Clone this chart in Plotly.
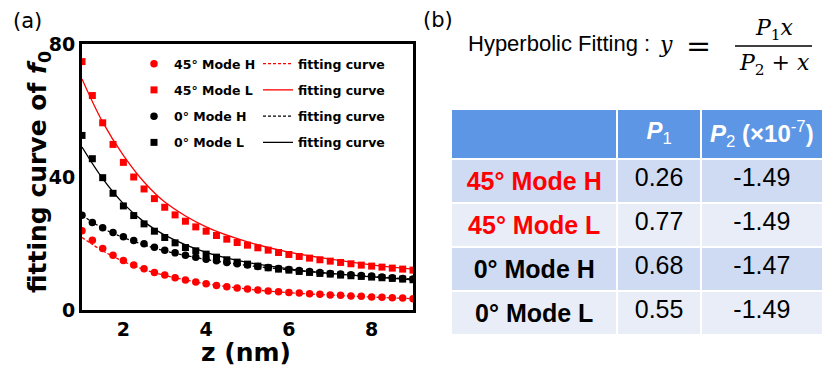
import plotly.graph_objects as go

# ---------------- data ----------------
z = [1.0, 1.25, 1.5, 1.75, 2.0, 2.25, 2.5, 2.75, 3.0, 3.25, 3.5, 3.75, 4.0,
     4.25, 4.5, 4.75, 5.0, 5.25, 5.5, 5.75, 6.0, 6.25, 6.5, 6.75, 7.0,
     7.25, 7.5, 7.75, 8.0, 8.25, 8.5, 8.75, 9.0]

f0_45_H = [23.8, 21.0, 18.5, 16.5, 14.9, 13.5, 12.4, 11.3, 10.5, 9.7, 9.0, 8.4, 7.9,
           7.4, 7.0, 6.6, 6.3, 6.0, 5.7, 5.5, 5.3, 5.1, 4.9, 4.7, 4.5,
           4.4, 4.2, 4.1, 3.9, 3.8, 3.7, 3.6, 3.4]
f0_45_L = [74.7, 64.5, 56.3, 49.8, 44.4, 40.0, 36.4, 33.5, 30.9, 28.6, 26.7, 25.0, 23.7,
           22.4, 21.3, 20.3, 19.5, 18.7, 18.0, 17.3, 16.7, 16.1, 15.6, 15.1, 14.7,
           14.3, 13.9, 13.5, 13.2, 12.9, 12.6, 12.3, 12.0]
f0_0_H = [28.5, 26.3, 24.7, 23.3, 22.0, 20.9, 19.9, 18.9, 18.0, 17.2, 16.5, 15.9, 15.3,
          14.8, 14.3, 13.9, 13.5, 13.1, 12.8, 12.5, 12.2, 11.9, 11.6, 11.3, 11.0,
          10.8, 10.6, 10.4, 10.2, 9.9, 9.7, 9.5, 9.3]
f0_0_L = [52.5, 45.5, 39.8, 35.1, 31.3, 28.4, 25.9, 23.7, 21.8, 20.2, 18.8, 17.8, 16.8,
          15.9, 15.1, 14.4, 13.8, 13.2, 12.7, 12.3, 12.0, 11.6, 11.3, 11.0, 10.8,
          10.5, 10.3, 10.1, 9.9, 9.7, 9.5, 9.3, 9.1]

# fitted curves, sampled along z
z_fit = [1.0, 1.5, 2.0, 2.5, 3.0, 4.0, 5.0, 6.0, 7.0, 8.0, 9.0]
fit_45_H = [21.8, 17.8, 14.6, 12.2, 10.4, 7.9, 6.3, 5.2, 4.5, 3.9, 3.4]
fit_45_L = [69.5, 56.5, 46.5, 38.5, 32.5, 25.0, 20.5, 17.4, 15.3, 13.6, 12.3]
fit_0_H = [28.5, 24.6, 21.8, 19.6, 17.8, 15.2, 13.4, 12.1, 11.0, 10.1, 9.3]
fit_0_L = [49.0, 39.5, 32.0, 26.5, 22.5, 17.3, 14.3, 12.4, 11.0, 10.0, 9.1]

series_names = ["45° Mode H", "45° Mode L", "0° Mode H", "0° Mode L"]
fit_label = "fitting curve"

x_ticks = [2, 4, 6, 8]
y_ticks = [0, 40, 80]

# fitted parameters table
p1_values = ["0.26", "0.77", "0.68", "0.55"]
p2_values = ["-1.49", "-1.49", "-1.47", "-1.49"]

# ---------------- styling ----------------
W, H = 826, 372
RED, BLACK = "#ff0000", "#000000"
colors = [RED, RED, BLACK, BLACK]
symbols = ["circle", "square", "circle", "square"]
marker_sizes = [7.5, 7, 7.5, 7]
dashes = ["3px,2px", "solid", "3px,2px", "solid"]
BOLD = "DejaVu Sans"
NBSP = "\u00a0"


def px(x):
    return x / W


def py(y):
    return 1 - y / H


fig = go.Figure()

point_sets = [f0_45_H, f0_45_L, f0_0_H, f0_0_L]
fit_sets = [fit_45_H, fit_45_L, fit_0_H, fit_0_L]

for i, (name, ys) in enumerate(zip(series_names, point_sets)):
    fig.add_trace(go.Scatter(
        x=z, y=ys, mode="markers", name=name,
        marker=dict(symbol=symbols[i], size=marker_sizes[i], color=colors[i]),
        legend="legend", legendgroup=f"pts{i}",
    ))

for i, ys in enumerate(fit_sets):
    fig.add_trace(go.Scatter(
        x=z_fit, y=ys, mode="lines", name=fit_label,
        line=dict(color=colors[i], width=1.3, dash=dashes[i], shape="spline", smoothing=1.0),
        legend="legend2", legendgroup=f"fit{i}",
    ))

# parameter table (panel b)
row_fill = ["#cfdbf2", "#e8edf8", "#cfdbf2", "#e8edf8"]
fig.add_trace(go.Table(
    domain=dict(x=[px(451), px(824)], y=[0, py(109)]),
    columnwidth=[166, 83, 122],
    header=dict(
        values=["", "<b><i>P</i></b><sub>1</sub>",
                f"<b><i>P</i></b><sub>2</sub><b>{NBSP}(×10</b><sup>-7</sup><b>)</b>"],
        fill=dict(color="#5d96e4"),
        line=dict(color="white", width=2),
        font=dict(family="Liberation Sans", size=24, color="white"),
        align="center", height=42,
    ),
    cells=dict(
        values=[[f"<b>{n.replace(' ', NBSP)}</b>" for n in series_names], p1_values, p2_values],
        fill=dict(color=[row_fill, row_fill, row_fill]),
        line=dict(color="white", width=2),
        font=dict(family="Liberation Sans", size=25,
                  color=[colors, [BLACK] * 4, [BLACK] * 4]),
        align="center", height=44,
    ),
))

axis_common = dict(
    showline=True, mirror=True, linecolor="black", linewidth=3,
    showgrid=False, zeroline=False, ticks="",
    tickfont=dict(family=BOLD, size=19, color="black", weight="bold"),
)

legend_common = dict(
    xanchor="left", yanchor="top", bgcolor="rgba(0,0,0,0)",
    font=dict(family=BOLD, size=12.5, color="black", weight="bold"),
    tracegroupgap=7, itemwidth=30,
)

fig.update_layout(
    width=W, height=H,
    margin=dict(l=0, r=0, t=0, b=0, autoexpand=False),
    paper_bgcolor="white", plot_bgcolor="white",
    xaxis=dict(domain=[px(82), px(413)], range=[1, 9], tickvals=x_ticks, **axis_common),
    yaxis=dict(domain=[py(310), py(44)], range=[0, 80], tickvals=y_ticks, **axis_common),
    legend=dict(x=px(134), y=py(49), **legend_common),
    legend2=dict(x=px(258), y=py(49), **legend_common),
    showlegend=True,
)

annotations = [
    dict(text="(a)", x=px(27), y=py(21), font=dict(family="DejaVu Sans", size=21)),
    dict(text="(b)", x=px(438), y=py(20), font=dict(family="DejaVu Sans", size=21)),
    dict(text="z (nm)", x=px(246), y=py(352),
         font=dict(family=BOLD, size=25, weight="bold")),
    dict(text="fitting curve of <i>f</i><sub>0</sub>", x=px(39), y=py(172), textangle=-90,
         font=dict(family=BOLD, size=25, weight="bold")),
    dict(text="Hyperbolic Fitting :", x=px(466), y=py(43), xanchor="left",
         font=dict(family="Liberation Sans", size=22)),
    dict(text="<i>y</i>", x=px(666), y=py(44),
         font=dict(family="DejaVu Serif", size=22)),
    dict(text="=", x=px(698), y=py(45),
         font=dict(family="DejaVu Serif", size=30)),
    dict(text="<i>P</i><sub>1</sub><i>x</i>", x=px(774), y=py(29),
         font=dict(family="DejaVu Serif", size=22)),
    dict(text="<i>P</i><sub>2</sub> + <i>x</i>", x=px(774), y=py(64),
         font=dict(family="DejaVu Serif", size=22)),
]
for a in annotations:
    a.setdefault("xanchor", "center")
    a.setdefault("yanchor", "middle")
    a["xref"] = "paper"
    a["yref"] = "paper"
    a["showarrow"] = False
    a["font"].setdefault("color", "black")
fig.update_layout(annotations=annotations)

# fraction bar of the formula
fig.add_shape(type="line", xref="paper", yref="paper",
              x0=px(735), x1=px(812), y0=py(46), y1=py(46),
              line=dict(color="black", width=1.5))

fig.write_html("out.html")
